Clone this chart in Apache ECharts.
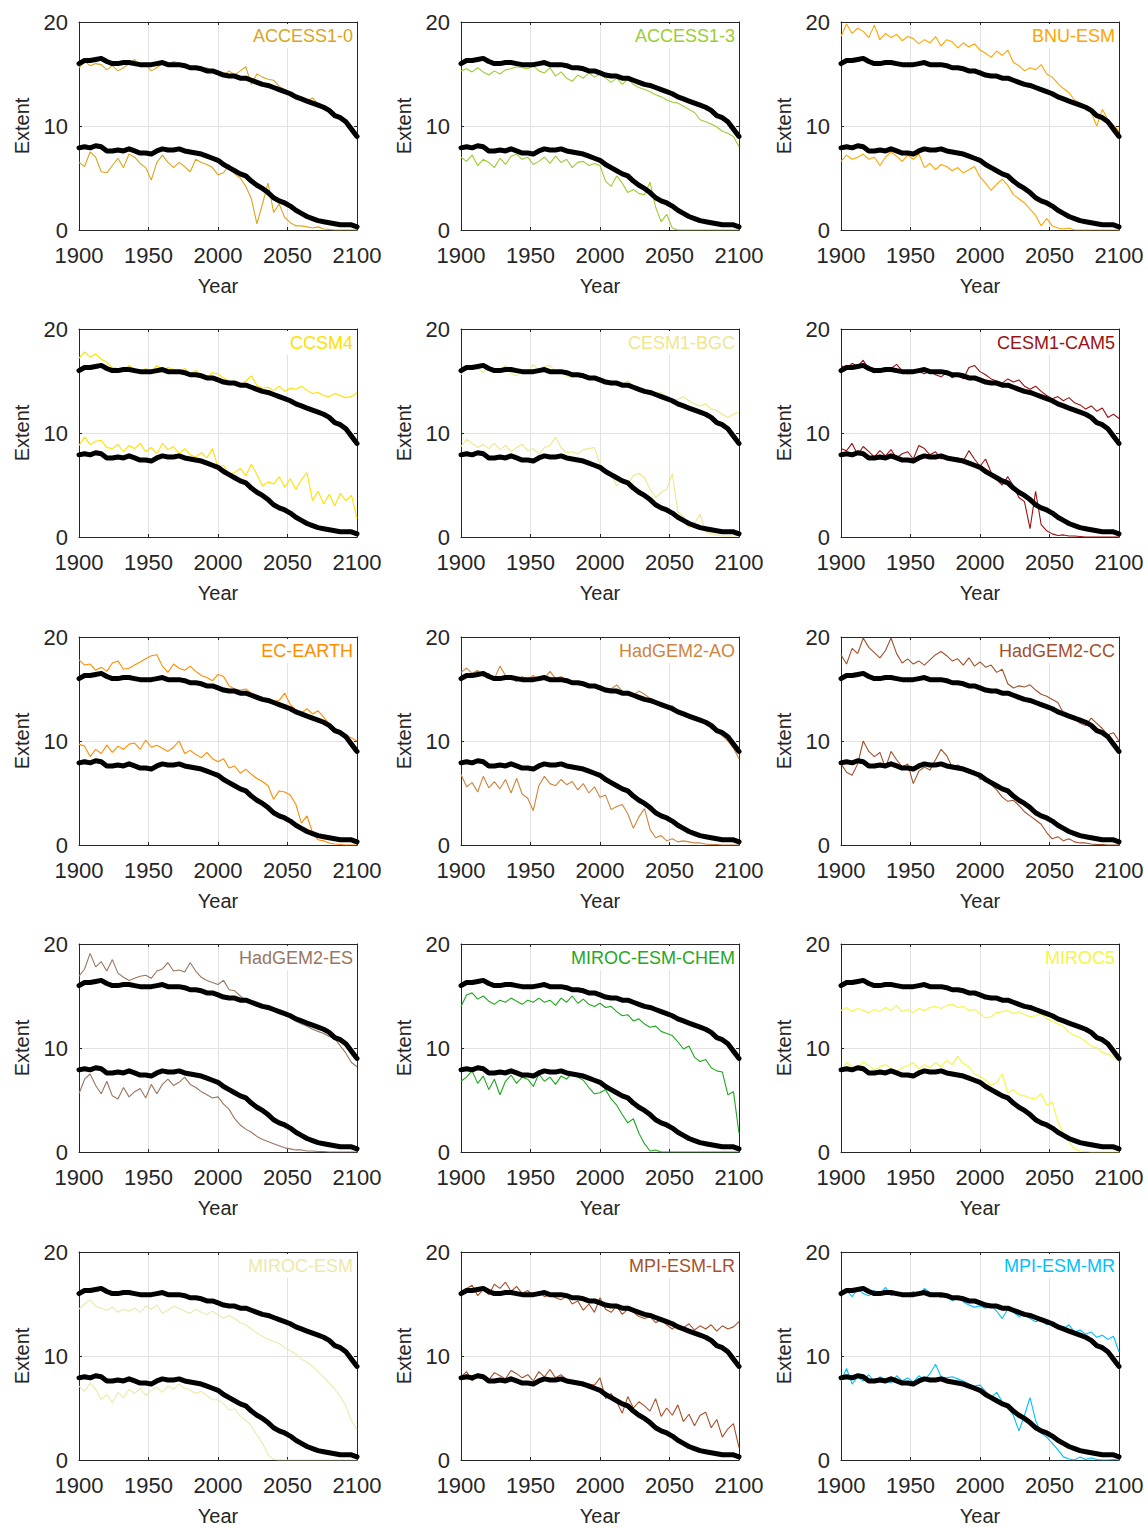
<!DOCTYPE html>
<html><head><meta charset="utf-8">
<script src="https://cdn.jsdelivr.net/npm/echarts@6/dist/echarts.min.js"></script>
<style>html,body{margin:0;padding:0;background:#fff}#c{width:1148px;height:1528px}</style>
</head><body><div id="c"></div>
<script>
// ---- DATA ----
const years = [1900,1904,1908,1912,1916,1920,1924,1928,1932,1936,
  1940,1944,1948,1952,1956,1960,1964,1968,1972,1976,
  1980,1984,1988,1992,1996,2000,2004,2008,2012,2016,
  2020,2024,2028,2032,2036,2040,2044,2048,2052,2056,
  2060,2064,2068,2072,2076,2080,2084,2088,2092,2096,2100];
const xTicks = [1900,1950,2000,2050,2100];
const yTicks = [0,10,20];

const meanMax = [16.0,16.3,16.3,16.4,16.5,16.2,16.0,16.0,16.1,16.1,
  16.0,15.9,15.9,15.9,16.0,16.1,15.9,15.9,15.9,15.8,
  15.6,15.6,15.5,15.3,15.3,15.1,14.9,14.8,14.8,14.6,
  14.6,14.4,14.2,14.0,13.9,13.7,13.5,13.3,13.1,12.8,
  12.6,12.4,12.2,12.0,11.8,11.5,11.0,10.8,10.4,9.7,9.0];
const meanMin = [7.9,8.0,7.9,8.1,8.0,7.6,7.6,7.7,7.6,7.8,
  7.6,7.4,7.4,7.3,7.6,7.8,7.7,7.7,7.8,7.6,
  7.5,7.4,7.3,7.1,6.9,6.7,6.3,6.0,5.7,5.4,
  5.2,4.7,4.3,4.0,3.6,3.1,2.8,2.6,2.3,1.9,
  1.6,1.3,1.1,0.9,0.8,0.7,0.6,0.5,0.5,0.5,0.3];

const ACCESS1_0_max = [15.6,16.2,15.8,16.0,15.9,15.4,15.8,15.3,15.6,16.0,
  16.4,15.7,15.9,15.3,15.6,16.0,15.9,16.2,16.0,15.7,
  15.4,15.7,15.5,15.6,15.2,15.1,14.9,15.3,14.9,15.3,
  15.7,14.0,15.0,14.7,14.5,14.4,13.8,13.5,13.2,12.9,
  12.6,12.4,12.7,12.1,11.9,11.4,11.0,10.8,10.6,9.5,8.8];
const ACCESS1_0_min = [6.5,6.1,7.5,7.0,5.6,5.5,6.2,6.9,6.0,7.3,
  7.0,6.4,6.0,4.8,6.5,7.2,6.5,6.0,6.5,6.1,
  5.6,6.8,6.5,6.3,6.0,5.3,5.5,6.3,5.4,5.0,
  4.2,3.0,0.6,2.5,4.5,1.7,2.5,1.2,0.7,0.4,
  0.4,0.3,0.2,0.3,0.1,0.05,0,0,0,0,0];

const ACCESS1_3_max = [15.3,15.5,15.2,15.6,15.2,14.9,15.3,15.0,15.4,15.5,
  15.7,15.6,15.5,15.8,15.3,15.1,15.6,14.8,15.2,14.6,
  14.3,14.9,14.6,15.1,14.7,15.0,14.6,14.2,14.6,14.0,
  14.5,14.0,13.7,13.5,13.3,13.0,12.8,12.5,12.3,12.2,
  11.9,11.6,11.3,10.6,10.4,10.2,9.9,9.5,9.3,9.0,8.0];
const ACCESS1_3_min = [7.0,6.6,7.2,6.2,6.8,6.5,6.0,6.9,6.3,7.1,
  7.3,6.8,7.0,6.3,6.6,7.0,6.4,7.1,6.5,6.8,
  6.0,6.5,6.6,6.2,6.4,6.2,4.7,4.2,5.2,4.5,
  3.6,3.9,3.5,3.4,4.6,2.2,0.8,1.5,0.2,0,
  0,0,0,0,0,0,0,0,0,0,0];

const BNU_ESM_max = [18.6,19.8,18.9,19.4,19.1,18.5,19.7,18.3,18.9,18.5,
  18.8,18.2,18.6,18.4,17.9,18.3,18.0,18.6,17.7,18.3,
  18.1,17.5,18.0,17.6,17.9,17.3,17.0,16.6,17.2,16.8,
  17.3,16.1,15.8,15.3,15.6,15.4,15.9,15.0,14.7,14.1,
  13.6,13.2,12.5,12.2,11.8,11.3,10.0,11.6,10.6,10.1,9.5];
const BNU_ESM_min = [6.6,7.2,6.8,7.0,7.3,6.8,7.0,6.2,7.0,7.5,
  7.1,6.6,7.2,6.8,7.3,6.0,6.4,5.8,6.3,6.1,
  5.7,6.0,5.5,5.8,6.1,5.1,4.5,3.8,4.4,4.9,
  4.3,3.4,3.0,2.6,2.0,1.4,0.4,1.1,0.4,0.2,
  0.1,0.2,0,0,0,0,0,0,0,0,0];

const CCSM4_max = [17.2,17.8,17.3,17.6,17.1,16.8,16.3,16.2,15.9,16.5,
  16.1,15.7,16.2,15.8,16.5,16.0,16.3,16.1,15.9,16.2,
  15.7,16.0,15.6,15.3,15.8,15.7,15.3,15.0,14.8,14.6,
  15.0,15.5,14.6,14.3,14.4,14.1,14.5,14.0,14.3,14.2,
  14.5,14.1,13.8,13.9,13.6,13.5,13.8,13.6,13.4,13.5,13.9];
const CCSM4_min = [8.8,9.6,8.9,9.2,9.3,8.6,8.5,8.9,8.2,8.8,
  8.5,9.0,8.2,8.6,8.0,9.0,8.4,8.7,8.0,8.5,
  7.9,7.7,8.1,7.6,8.5,6.7,6.9,6.0,6.2,6.6,
  5.9,7.0,6.0,4.9,5.3,5.1,5.8,4.8,5.6,4.6,
  5.5,6.2,3.5,4.4,3.2,4.1,3.0,4.2,3.5,4.0,1.8];

const CESM1_BGC_max = [15.6,16.3,16.5,16.2,15.8,16.4,16.2,16.0,16.5,15.7,
  15.5,16.1,15.8,16.6,16.0,16.4,16.5,15.9,16.0,15.5,
  15.3,15.6,15.4,15.2,15.5,15.0,14.8,14.6,14.9,14.7,
  15.0,14.6,14.2,14.0,13.9,13.8,13.9,13.4,13.2,13.2,
  13.5,13.1,12.8,12.6,12.8,12.3,12.2,11.8,11.5,11.8,12.0];
const CESM1_BGC_min = [8.7,9.4,9.0,8.6,8.9,8.5,9.0,8.4,8.8,8.2,
  8.6,8.9,8.3,8.5,8.0,8.6,8.8,9.6,8.6,8.1,
  8.2,8.0,8.4,8.5,8.6,7.0,6.4,6.0,4.9,5.6,
  5.1,5.9,6.1,5.7,4.6,3.8,4.3,4.6,6.1,2.4,
  2.0,0.9,1.3,2.2,0.5,0.3,0.2,0.1,0.1,0.1,0.2];

const CESM1_CAM5_max = [16.5,16.2,16.7,16.4,17.0,16.1,15.8,16.0,15.9,16.2,
  16.6,16.0,15.7,15.8,15.9,15.7,16.0,15.6,15.4,15.8,
  15.3,15.6,15.2,16.3,16.5,15.9,15.6,15.2,15.0,14.8,
  15.2,14.9,15.1,14.5,14.2,14.5,14.0,13.6,13.3,13.5,
  13.1,13.4,12.9,12.7,12.3,12.6,12.1,12.4,11.5,11.8,11.4];
const CESM1_CAM5_min = [8.5,8.3,9.0,7.9,8.7,8.2,7.7,8.3,7.8,8.4,
  7.6,8.0,8.2,7.5,8.8,8.5,7.9,8.2,7.5,7.8,
  7.4,7.6,7.3,8.3,7.5,6.8,7.5,6.2,5.5,5.0,
  5.8,4.9,3.8,3.4,0.8,4.4,1.2,0.6,0.3,0.15,
  0.2,0.1,0.1,0.05,0,0,0,0,0,0,0];

const EC_EARTH_max = [17.8,17.3,17.4,16.8,17.1,16.7,17.5,17.7,16.9,17.0,
  17.3,17.6,17.9,18.2,18.3,17.2,16.6,17.4,17.0,16.8,
  17.2,16.7,16.3,16.1,15.8,16.4,16.2,15.3,15.0,14.9,
  15.0,14.6,14.3,14.1,13.9,13.8,13.9,14.6,13.5,13.0,
  12.7,13.1,12.6,12.9,12.3,11.6,11.2,11.0,10.6,10.3,10.0];
const EC_EARTH_min = [9.7,9.5,8.5,9.2,8.8,9.6,8.9,9.5,9.2,9.7,
  9.8,9.2,10.1,9.4,9.6,9.3,9.0,9.4,10.0,8.8,
  9.1,8.7,8.4,8.9,8.3,8.0,8.3,7.4,7.6,6.9,
  7.3,6.8,6.4,6.1,5.7,4.4,5.2,5.1,4.8,3.9,
  2.1,2.8,1.2,0.5,0.4,0.2,0.1,0.05,0,0,0];

const HadGEM2_AO_max = [16.6,17.0,16.5,16.8,16.2,16.5,16.0,17.2,16.3,16.0,
  15.7,16.2,15.9,16.3,15.8,16.0,16.7,16.0,16.2,15.8,
  15.7,15.5,15.6,15.4,15.2,15.3,14.9,15.0,15.4,14.8,
  14.6,14.4,14.8,14.5,14.1,13.9,13.5,13.3,13.4,12.9,
  12.5,12.2,12.0,11.9,11.6,11.2,10.9,10.5,10.0,9.3,8.3];
const HadGEM2_AO_min = [6.8,5.6,6.0,5.1,6.6,5.5,6.1,5.4,6.3,5.0,
  6.4,4.9,4.5,3.3,5.7,6.6,5.9,5.7,6.3,5.8,
  6.1,5.3,5.9,5.0,5.6,4.6,4.8,3.4,3.7,3.9,
  3.0,1.6,2.7,3.5,1.5,0.7,0.9,0.4,0.6,0.3,
  0.4,0.3,0.2,0.2,0.1,0.05,0.05,0,0,0,0];

const HadGEM2_CC_max = [18.3,17.4,18.9,18.4,19.9,19.0,18.5,18.0,18.7,19.9,
  18.4,17.5,17.9,17.4,17.7,17.3,17.8,18.3,18.6,18.2,
  17.7,17.9,17.3,18.0,17.2,17.6,17.1,17.3,16.6,16.9,
  15.5,15.1,15.3,15.2,15.4,14.9,14.5,14.3,14.0,13.7,
  12.7,12.5,12.1,11.7,11.5,12.2,11.7,11.2,10.6,10.8,10.0];
const HadGEM2_CC_min = [7.8,7.0,6.7,7.8,10.0,9.0,8.5,8.9,7.4,9.0,
  8.2,7.5,7.8,5.9,7.1,7.5,7.2,8.2,9.2,8.6,
  7.5,7.7,7.4,7.0,7.1,6.3,6.5,5.8,5.3,4.6,
  4.2,4.3,3.8,3.2,2.8,2.4,2.0,1.2,0.6,0.8,
  0.4,0.6,0.3,0.2,0.2,0.1,0.05,0.05,0,0,0];

const HadGEM2_ES_max = [16.9,17.6,19.1,17.8,18.3,17.4,18.5,17.2,16.8,16.5,
  16.7,16.9,17.0,16.7,17.4,17.6,18.2,17.4,17.5,17.3,
  18.2,17.4,16.8,16.5,16.3,16.1,16.5,15.6,15.5,15.0,
  14.6,14.2,14.1,13.9,13.8,13.6,13.4,13.2,12.9,12.6,
  12.3,12.1,11.8,11.6,11.4,11.1,10.9,10.2,9.5,8.6,8.2];
const HadGEM2_ES_min = [5.6,7.0,7.5,6.4,5.6,6.8,5.4,5.1,6.2,5.3,
  5.8,6.1,5.2,6.5,5.6,6.5,7.0,6.4,6.7,7.2,
  6.5,6.2,5.8,5.5,5.2,5.3,4.6,4.1,3.2,2.6,
  2.2,1.9,1.5,1.2,1.0,0.8,0.6,0.4,0.3,0.2,
  0.2,0.1,0.1,0.05,0.05,0,0,0,0,0,0];

const MIROC_ESM_CHEM_max = [14.0,15.1,15.3,14.7,15.0,14.5,14.2,14.6,14.4,14.8,
  14.5,14.2,14.6,14.4,14.8,14.4,14.6,14.1,14.8,14.4,
  15.0,14.3,14.7,14.2,14.0,14.3,13.9,14.0,13.5,13.1,
  13.2,12.6,12.8,12.3,12.0,12.1,11.6,11.4,11.2,10.6,
  9.9,10.2,9.1,8.7,8.9,8.1,7.8,7.7,5.5,5.8,1.8];
const MIROC_ESM_CHEM_min = [6.8,7.2,7.8,6.6,7.3,6.0,7.0,5.5,6.8,7.4,
  6.6,7.2,7.0,6.3,7.5,6.8,7.2,6.5,7.3,7.0,
  7.6,7.2,6.9,6.2,5.6,5.7,6.0,5.1,4.5,3.6,
  2.8,3.2,1.8,0.8,0.1,0.2,0,0,0,0,
  0,0,0,0,0,0,0,0,0,0,0];

const MIROC5_max = [13.6,13.9,13.5,13.8,13.6,13.4,13.7,13.5,13.9,13.6,
  14.1,13.5,13.7,13.4,13.8,13.6,13.9,14.0,13.8,14.1,
  14.2,13.9,14.0,13.6,13.7,13.3,12.9,13.0,13.4,13.5,
  13.6,13.3,13.5,13.2,13.0,13.1,13.3,12.8,12.6,12.3,
  12.1,11.5,11.2,11.0,10.6,10.2,10.0,9.6,9.4,9.1,8.8];
const MIROC5_min = [7.7,8.6,8.2,8.0,8.7,8.3,7.9,8.2,8.4,8.0,
  7.8,8.1,8.3,8.6,8.0,8.4,8.1,8.6,8.2,8.8,
  8.4,9.2,8.5,8.2,7.5,7.3,6.9,6.4,6.7,7.5,
  5.7,6.0,5.5,5.4,5.2,5.1,5.6,4.5,4.8,2.9,
  1.8,1.0,0.3,0.1,0.05,0,0,0,0,0,0];

const MIROC_ESM_max = [14.5,15.0,15.4,14.8,14.6,14.4,14.7,14.2,14.5,14.3,
  14.6,14.2,14.8,14.5,14.9,14.1,14.4,14.8,14.6,14.3,
  14.1,14.5,14.2,14.0,14.3,14.0,13.6,13.9,13.6,13.2,
  13.0,12.6,12.2,11.9,11.6,11.4,11.2,10.8,10.5,10.2,
  9.7,9.4,9.0,8.5,8.0,7.4,6.8,6.1,5.2,3.8,2.9];
const MIROC_ESM_min = [7.1,6.6,7.4,6.8,5.8,6.3,5.5,6.5,6.0,6.8,
  6.4,6.9,6.2,6.7,7.0,6.5,7.1,6.8,7.3,6.9,
  6.7,6.4,6.6,6.2,5.8,5.8,5.4,4.8,4.9,4.2,
  3.8,3.3,2.4,1.6,0.5,0.05,0,0,0,0,
  0,0,0,0,0,0,0,0,0,0,0];

const MPI_ESM_LR_max = [15.8,16.5,16.8,15.8,16.4,15.9,16.9,16.5,17.1,16.2,
  16.7,16.0,16.3,15.8,16.2,15.7,15.9,15.6,15.4,15.8,
  15.0,15.3,14.4,15.0,14.2,15.6,14.5,14.2,14.8,14.0,
  14.5,14.2,13.8,13.6,13.8,13.2,13.5,13.0,12.6,13.0,
  12.7,13.1,12.5,12.9,12.6,13.0,12.4,12.9,12.6,12.8,13.3];
const MPI_ESM_LR_min = [8.0,8.5,7.6,8.3,8.0,7.7,8.4,8.1,7.8,8.6,
  8.3,7.9,8.2,7.6,8.5,8.0,8.7,7.9,8.2,7.7,
  7.5,7.4,7.1,7.3,7.2,7.9,5.9,6.4,5.6,4.5,
  6.1,5.0,5.6,5.2,4.7,5.9,4.2,5.0,4.3,5.3,
  3.7,4.4,3.3,4.3,4.6,3.1,3.9,2.2,3.0,3.5,1.2];

const MPI_ESM_MR_max = [15.9,16.3,15.7,16.5,16.0,15.8,16.3,15.9,16.6,15.8,
  16.1,15.7,15.9,16.2,15.8,16.5,16.1,15.9,15.6,15.8,
  15.3,15.6,15.2,14.9,14.7,14.8,14.6,14.9,14.3,13.6,
  14.5,14.2,13.8,14.0,13.6,13.3,13.5,13.0,13.1,12.8,
  12.6,13.0,12.3,12.5,12.1,12.3,11.8,12.0,11.6,11.9,10.4];
const MPI_ESM_MR_min = [7.6,8.8,7.3,8.0,7.6,8.2,7.5,8.0,7.7,7.4,
  8.1,7.6,7.9,7.5,8.1,7.7,8.3,9.2,8.0,7.9,
  8.0,7.8,7.6,7.3,7.1,7.2,6.6,6.0,6.5,5.6,
  5.1,4.3,2.8,4.3,6.0,3.8,2.6,2.2,1.6,1.0,
  0.3,0.1,0,0.3,0.05,0.2,0.05,0,0,0.05,0];

const models = ['ACCESS1-0','ACCESS1-3','BNU-ESM','CCSM4','CESM1-BGC','CESM1-CAM5',
  'EC-EARTH','HadGEM2-AO','HadGEM2-CC','HadGEM2-ES','MIROC-ESM-CHEM','MIROC5',
  'MIROC-ESM','MPI-ESM-LR','MPI-ESM-MR'];
const modelMax = [ACCESS1_0_max,ACCESS1_3_max,BNU_ESM_max,CCSM4_max,CESM1_BGC_max,CESM1_CAM5_max,
  EC_EARTH_max,HadGEM2_AO_max,HadGEM2_CC_max,HadGEM2_ES_max,MIROC_ESM_CHEM_max,MIROC5_max,
  MIROC_ESM_max,MPI_ESM_LR_max,MPI_ESM_MR_max];
const modelMin = [ACCESS1_0_min,ACCESS1_3_min,BNU_ESM_min,CCSM4_min,CESM1_BGC_min,CESM1_CAM5_min,
  EC_EARTH_min,HadGEM2_AO_min,HadGEM2_CC_min,HadGEM2_ES_min,MIROC_ESM_CHEM_min,MIROC5_min,
  MIROC_ESM_min,MPI_ESM_LR_min,MPI_ESM_MR_min];

// ---- STYLE ----
const colors = ['#DAA520','#9ACD32','#FFA500','#FFE000','#F0E68C','#9b1111',
  '#FF8C00','#CD853F','#A0522D','#98765f','#1fa81f','#f5f545',
  '#EEE8AA','#a8502a','#00BFFF'];
const FONT = "'Liberation Sans', Arial, Helvetica, sans-serif";
const TXT = '#262626';
const colLeft = [79, 461, 841];
const rowTop = [22, 329, 637, 944, 1252];
const W = 278, H = 208;

const grid = [], xAxis = [], yAxis = [], series = [], title = [];
const pairs = arr => years.map((y, i) => [y, arr[i]]);

models.forEach((m, k) => {
  const r = Math.floor(k / 3), c = k % 3;
  const left = colLeft[c], top = rowTop[r];
  grid.push({left: left, top: top, width: W, height: H, containLabel: false});
  const common = {type: 'value', gridIndex: k};
  xAxis.push(Object.assign({}, common, {
    min: xTicks[0], max: xTicks[xTicks.length - 1], interval: 50, position: 'bottom',
    axisLine: {show: true, onZero: false, lineStyle: {color: TXT, width: 1}},
    axisTick: {show: true, inside: true, length: 3, lineStyle: {color: TXT}},
    axisLabel: {show: true, fontSize: 22, color: TXT, margin: 14, fontFamily: FONT, formatter: v => String(v)},
    splitLine: {show: true, lineStyle: {color: '#e2e2e2', width: 1}},
    name: 'Year', nameLocation: 'middle', nameGap: 46,
    nameTextStyle: {fontSize: 20, color: TXT, fontFamily: FONT}
  }));
  xAxis.push(Object.assign({}, common, {
    min: xTicks[0], max: xTicks[xTicks.length - 1], interval: 50, position: 'top',
    axisLine: {show: true, onZero: false, lineStyle: {color: TXT, width: 1}},
    axisTick: {show: true, inside: true, length: 3, lineStyle: {color: TXT}},
    axisLabel: {show: false}, splitLine: {show: false}
  }));
  yAxis.push(Object.assign({}, common, {
    min: yTicks[0], max: yTicks[yTicks.length - 1], interval: 10, position: 'left',
    axisLine: {show: true, onZero: false, lineStyle: {color: TXT, width: 1}},
    axisTick: {show: true, inside: true, length: 3, lineStyle: {color: TXT}},
    axisLabel: {show: true, fontSize: 22, color: TXT, margin: 11, fontFamily: FONT},
    splitLine: {show: true, lineStyle: {color: '#e2e2e2', width: 1}},
    name: 'Extent', nameLocation: 'middle', nameGap: 47, nameRotate: 90,
    nameTextStyle: {fontSize: 20, color: TXT, fontFamily: FONT}
  }));
  yAxis.push(Object.assign({}, common, {
    min: yTicks[0], max: yTicks[yTicks.length - 1], interval: 10, position: 'right',
    axisLine: {show: true, onZero: false, lineStyle: {color: TXT, width: 1}},
    axisTick: {show: true, inside: true, length: 3, lineStyle: {color: TXT}},
    axisLabel: {show: false}, splitLine: {show: false}
  }));
  const xi = 2 * k, yi = 2 * k;
  [modelMax[k], modelMin[k]].forEach(arr => series.push({
    type: 'line', xAxisIndex: xi, yAxisIndex: yi, data: pairs(arr), showSymbol: false, symbol: 'none',
    lineStyle: {color: colors[k], width: 1.1}, z: 2, silent: true
  }));
  [meanMax, meanMin].forEach(arr => series.push({
    type: 'line', xAxisIndex: xi, yAxisIndex: yi, data: pairs(arr), showSymbol: false, symbol: 'none',
    lineStyle: {color: '#000', width: 5, join: 'round', cap: 'round'}, z: 3, silent: true
  }));
  const rightPx = 1148 - (left + W) + 1;
  title.push({
    text: m, right: rightPx, top: top + 2, padding: [3, 3, 3, 3], backgroundColor: '#fff',
    textStyle: {color: colors[k], fontSize: 18, fontWeight: 'normal', fontFamily: FONT}
  });
});

const chart = echarts.init(document.getElementById('c'), null, {renderer: 'svg'});
chart.setOption({
  animation: false, backgroundColor: '#fff',
  title: title, grid: grid, xAxis: xAxis, yAxis: yAxis, series: series
});
</script>
</body></html>
